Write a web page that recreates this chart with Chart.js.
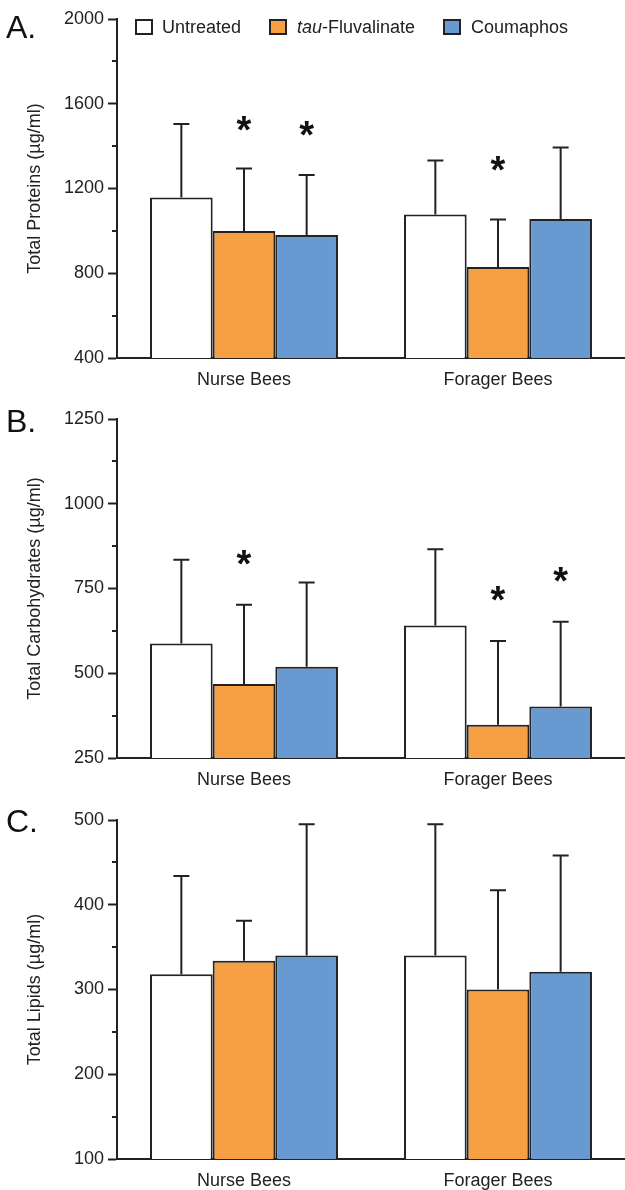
<!DOCTYPE html>
<html>
<head>
<meta charset="utf-8">
<script src="https://cdn.jsdelivr.net/npm/chart.js@4.4.1/dist/chart.umd.min.js"></script>
<style>
html,body{margin:0;padding:0;background:#fff;}
body{width:625px;height:1190px;position:relative;overflow:hidden;font-family:"Liberation Sans",Arial,sans-serif;color:#222;}
canvas{position:absolute;left:0;}
.plabel{position:absolute;left:6px;font-size:32px;line-height:32px;color:#111;}
.lbox{position:absolute;top:19px;width:14px;height:12px;border:2px solid #222;}
.ltxt{position:absolute;top:17px;font-size:18px;line-height:20px;color:#222;white-space:nowrap;}
</style>
</head>
<body>
<canvas id="chartA" width="625" height="400" style="top:0px;width:625px;height:400px;"></canvas>
<canvas id="chartB" width="625" height="400" style="top:400px;width:625px;height:400px;"></canvas>
<canvas id="chartC" width="625" height="390" style="top:800px;width:625px;height:390px;"></canvas>

<div class="plabel" style="top:11px;">A.</div>
<div class="plabel" style="top:405px;">B.</div>
<div class="plabel" style="top:805px;">C.</div>

<div class="lbox" style="left:135px;background:#ffffff;"></div>
<div class="ltxt" style="left:162px;">Untreated</div>
<div class="lbox" style="left:269px;background:#F7A043;"></div>
<div class="ltxt" style="left:297px;"><i>tau</i>-Fluvalinate</div>
<div class="lbox" style="left:443px;background:#6899D0;"></div>
<div class="ltxt" style="left:471px;">Coumaphos</div>

<script>
// ---- data ----
const categories = ['Nurse Bees', 'Forager Bees'];
const seriesNames = ['Untreated', 'tau-Fluvalinate', 'Coumaphos'];
const seriesColors = ['#ffffff', '#F7A043', '#6899D0'];

// A. Total proteins (µg/ml): [Untreated, tau-Fluvalinate, Coumaphos] x [Nurse, Forager]
const proteinMeans = [[1157, 1077], [1000, 830], [981, 1056]];
const proteinSD    = [[347, 255], [294, 224], [283, 338]];
const proteinStars = [[null, null], [1491, 1299], [1467, null]];
const proteinTicks = [400, 800, 1200, 1600, 2000];

// B. Total carbohydrates (µg/ml)
const carbMeans = [[588, 641], [468, 348], [519, 402]];
const carbSD    = [[247, 225], [234, 247], [249, 250]];
const carbStars = [[null, null], [830, 726], [null, 781]];
const carbTicks = [250, 500, 750, 1000, 1250];

// C. Total lipids (µg/ml)
const lipidMeans = [[318, 340], [334, 300], [340, 321]];
const lipidSD    = [[116, 155], [47, 117], [155, 137]];
const lipidStars = [[null, null], [null, null], [null, null]];
const lipidTicks = [100, 200, 300, 400, 500];

// ---- drawing ----
const FONT = '"Liberation Sans", Arial, sans-serif';
const INK = '#222';

const errorBars = {
  id: 'errorBars',
  afterDatasetsDraw(chart, args, opts) {
    const ctx = chart.ctx, ys = chart.scales.y;
    ctx.save();
    ctx.strokeStyle = INK; ctx.lineWidth = 2; ctx.lineCap = 'butt';
    chart.data.datasets.forEach((ds, i) => {
      const meta = chart.getDatasetMeta(i);
      meta.data.forEach((el, j) => {
        const top = ys.getPixelForValue(ds.data[j] + opts.sd[i][j]);
        ctx.beginPath();
        ctx.moveTo(el.x, el.y);
        ctx.lineTo(el.x, top);
        ctx.moveTo(el.x - 8, top);
        ctx.lineTo(el.x + 8, top);
        ctx.stroke();
      });
    });
    ctx.restore();
  }
};

const stars = {
  id: 'stars',
  afterDatasetsDraw(chart, args, opts) {
    const ctx = chart.ctx, ys = chart.scales.y;
    const size = 38;
    ctx.save();
    ctx.fillStyle = '#111';
    ctx.font = 'bold ' + size + 'px ' + FONT;
    ctx.textAlign = 'center';
    ctx.textBaseline = 'alphabetic';
    chart.data.datasets.forEach((ds, i) => {
      const meta = chart.getDatasetMeta(i);
      meta.data.forEach((el, j) => {
        const v = opts.values[i][j];
        if (v === null) return;
        const py = ys.getPixelForValue(v);
        ctx.fillText('*', el.x, py + 0.42 * size);
      });
    });
    ctx.restore();
  }
};

const minorTicks = {
  id: 'minorTicks',
  afterDraw(chart) {
    const ctx = chart.ctx, ys = chart.scales.y;
    ctx.save();
    ctx.strokeStyle = INK; ctx.lineWidth = 2;
    ys.ticks.forEach(t => {
      if (t.label === '') {
        const py = Math.round(ys.getPixelForValue(t.value));
        ctx.beginPath();
        ctx.moveTo(ys.right - 5, py);
        ctx.lineTo(ys.right, py);
        ctx.stroke();
      }
    });
    ctx.restore();
  }
};

function makeChart(id, means, sd, starVals, tickVals, title, topPad, xHeight) {
  return new Chart(document.getElementById(id), {
    type: 'bar',
    data: {
      labels: categories,
      datasets: seriesNames.map((name, i) => ({
        label: name,
        data: means[i],
        backgroundColor: seriesColors[i],
        borderColor: INK,
        borderWidth: 2,
        categoryPercentage: 0.74,
        barPercentage: 1.0
      }))
    },
    options: {
      responsive: false,
      animation: false,
      layout: { padding: { top: topPad, left: 0, right: 0, bottom: 0 } },
      plugins: {
        legend: { display: false },
        tooltip: { enabled: false },
        errorBars: { sd: sd },
        stars: { values: starVals }
      },
      scales: {
        x: {
          grid: { display: false },
          border: { display: true, color: INK, width: 2 },
          ticks: { color: INK, font: { size: 18, family: FONT }, padding: 3 },
          afterFit: s => { s.height = xHeight; }
        },
        y: {
          min: tickVals[0],
          max: tickVals[tickVals.length - 1],
          ticks: {
            stepSize: (tickVals[1] - tickVals[0]) / 2,
            autoSkip: false,
            callback: v => tickVals.includes(v) ? String(v) : '',
            color: INK,
            font: { size: 18, family: FONT },
            padding: 4
          },
          grid: {
            display: true,
            drawOnChartArea: false,
            drawTicks: true,
            tickLength: 9,
            tickWidth: 2,
            tickColor: c => (c.tick && tickVals.includes(c.tick.value)) ? INK : 'rgba(0,0,0,0)'
          },
          border: { display: true, color: INK, width: 2 },
          title: {
            display: true,
            text: title,
            color: INK,
            font: { size: 18, family: FONT },
            padding: { top: 24, bottom: 0 }
          },
          afterFit: s => { s.width = 117; }
        }
      }
    },
    plugins: [errorBars, stars, minorTicks]
  });
}

makeChart('chartA', proteinMeans, proteinSD, proteinStars, proteinTicks, 'Total Proteins (µg/ml)', 19, 42);
makeChart('chartB', carbMeans, carbSD, carbStars, carbTicks, 'Total Carbohydrates (µg/ml)', 19, 42);
makeChart('chartC', lipidMeans, lipidSD, lipidStars, lipidTicks, 'Total Lipids (µg/ml)', 20, 31);
</script>
</body>
</html>
